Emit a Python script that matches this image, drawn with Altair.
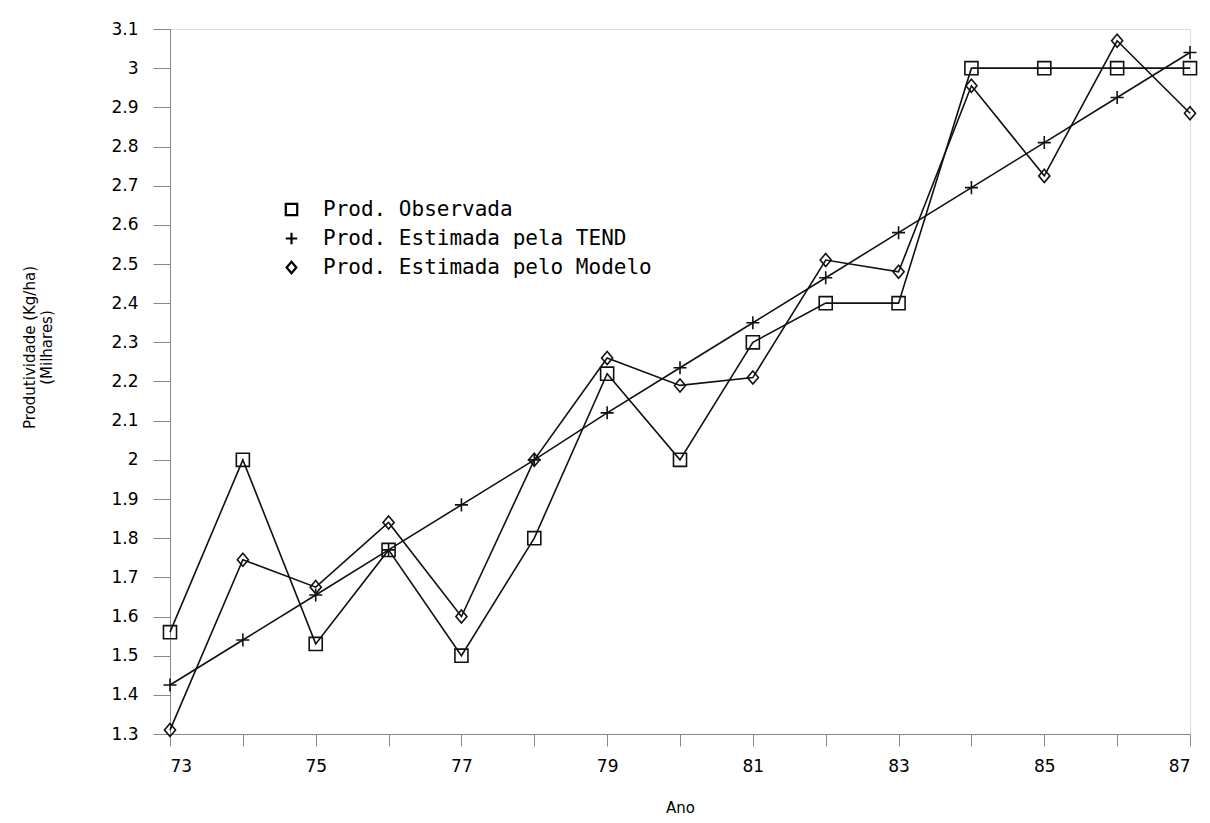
import altair as alt
import pandas as pd

anos = list(range(73, 88))
observada = [1.56, 2.00, 1.53, 1.77, 1.50, 1.80, 2.22, 2.00, 2.30, 2.40, 2.40, 3.00, 3.00, 3.00, 3.00]
tendencia = [1.425, 1.54, 1.655, 1.77, 1.885, 2.00, 2.12, 2.235, 2.35, 2.465, 2.58, 2.695, 2.81, 2.925, 3.04]
modelo = [1.31, 1.745, 1.675, 1.84, 1.60, 2.00, 2.26, 2.19, 2.21, 2.51, 2.48, 2.955, 2.725, 3.07, 2.885]

series = ["Prod. Observada", "\u00a0Prod. Estimada pela TEND", "Prod. Estimada pelo Modelo"]
y_ticks = [1.3, 1.4, 1.5, 1.6, 1.7, 1.8, 1.9, 2.0, 2.1, 2.2, 2.3, 2.4, 2.5, 2.6, 2.7, 2.8, 2.9, 3.0, 3.1]
x_ticks = anos

rows = []
for name, vals in zip(series, [observada, tendencia, modelo]):
    for a, v in zip(anos, vals):
        rows.append({"Ano": a, "valor": v, "serie": name})
df = pd.DataFrame(rows)

shapes = [
    "M-1,-1H1V1H-1Z",
    "M-1,0H1M0,-1V1",
    "M0,-1L0.85,0L0,1L-0.85,0Z",
]

AXFONT = "DejaVu Sans"

x_enc = alt.X(
    "Ano:Q",
    scale=alt.Scale(domain=[73, 87], nice=False, zero=False),
    axis=alt.Axis(
        values=x_ticks,
        labelExpr="datum.value % 2 == 1 ? datum.label : ''",
        tickSize=12,
        labelPadding=12,
        labelFont=AXFONT,
        labelFontSize=17,
        title="Ano",
        titleFont=AXFONT,
        titleFontSize=15,
        titleFontWeight="normal",
        titlePadding=26,
        grid=False,
    ),
)
y_enc = alt.Y(
    "valor:Q",
    scale=alt.Scale(domain=[1.3, 3.1], nice=False, zero=False),
    axis=alt.Axis(
        values=y_ticks,
        format="~g",
        tickSize=17,
        labelPadding=15,
        labelFont=AXFONT,
        labelFontSize=17,
        title=["Produtividade (Kg/ha)", "(Milhares)"],
        titleFont=AXFONT,
        titleFontSize=15,
        titleFontWeight="normal",
        titlePadding=56,
        titleY=318,
        grid=False,
    ),
)

lines = alt.Chart(df).mark_line(color="#111111", strokeWidth=1.6).encode(
    x=x_enc, y=y_enc, detail="serie:N"
)

points = alt.Chart(df).mark_point(
    filled=False, color="#111111", strokeWidth=1.6, opacity=1
).encode(
    x=x_enc,
    y=y_enc,
    shape=alt.Shape(
        "serie:N",
        scale=alt.Scale(domain=series, range=shapes),
        legend=alt.Legend(
            title=None,
            orient="none",
            legendX=111,
            legendY=170,
            labelFont="DejaVu Sans Mono",
            labelFontSize=21,
            labelColor="black",
            symbolSize=130,
            symbolStrokeColor="black",
            symbolFillColor="transparent",
            symbolOpacity=1,
            symbolStrokeWidth=2.2,
            rowPadding=7,
            labelOffset=21,
            labelLimit=600,
        ),
    ),
    size=alt.value(170),
)

chart = (
    alt.layer(lines, points)
    .properties(width=1020, height=705, padding={"left": 14, "top": 12, "right": 0, "bottom": 0})
    .configure_view(stroke="#000000", strokeWidth=1.8)
    .configure_axis(
        domainColor="black",
        domainWidth=1.6,
        tickColor="black",
        tickWidth=1.6,
        labelColor="black",
        titleColor="black",
    )
    .configure(background="white")
)

chart.save("out.html", embed_options={"renderer": "svg", "actions": False})
